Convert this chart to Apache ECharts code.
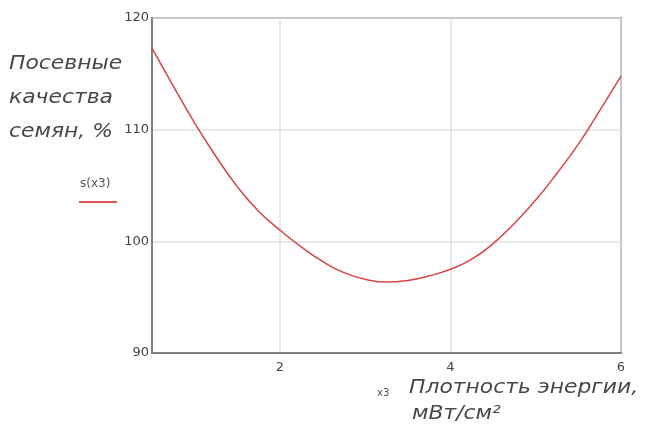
<!DOCTYPE html>
<html>
<head>
<meta charset="utf-8">
<script src="https://cdn.jsdelivr.net/npm/echarts@6/dist/echarts.min.js"></script>
<style>html,body{margin:0;padding:0;background:#fff;}#c{width:653px;height:432px;}</style>
</head>
<body>
<div id="c"></div>
<script>
var xValues = [0.5, 0.75, 1.0, 1.25, 1.5, 1.75, 2.0, 2.25, 2.5, 2.75, 3.0, 3.25, 3.5, 3.75, 4.0, 4.25, 4.5, 4.75, 5.0, 5.25, 5.5, 5.75, 6.0];
var sValues = [117.3, 113.9, 110.6, 107.6, 104.9, 102.7, 101.0, 99.5, 98.2, 97.2, 96.6, 96.35, 96.5, 96.9, 97.5, 98.4, 99.8, 101.6, 103.7, 106.1, 108.7, 111.7, 114.8];
var xTicks = [2, 4, 6];
var yTicks = [90, 100, 110, 120];
var yTitleLines = ['Посевные', 'качества', 'семян, %'];
var xTitleLines = ['Плотность энергии,', 'мВт/см²'];
var legendText = 's(x3)';
var xVarText = 'x3';

var data = xValues.map(function (x, i) { return [x, sValues[i]]; });
var chart = echarts.init(document.getElementById('c'), null, {renderer: 'canvas'});
var italicFont = 'italic 19px "DejaVu Sans", sans-serif';
var graphics = [];
yTitleLines.forEach(function (t, i) {
  graphics.push({type: 'text', x: 9, y: 55 + i * 34, scaleX: 1.15,
    style: {text: t, font: italicFont, fill: '#484848', verticalAlign: 'top', align: 'left'}});
});
xTitleLines.forEach(function (t, i) {
  graphics.push({type: 'text', x: 409 + i * 3, y: 379 + i * 26, scaleX: 1.15,
    style: {text: t, font: italicFont, fill: '#484848', verticalAlign: 'top', align: 'left'}});
});
graphics.push({type: 'text', x: 377, y: 388, style: {text: xVarText, font: '10px "DejaVu Sans", sans-serif', fill: '#555', verticalAlign: 'top'}});
graphics.push({type: 'text', x: 80, y: 178, style: {text: legendText, font: '12px "DejaVu Sans", sans-serif', fill: '#555', verticalAlign: 'top'}});
graphics.push({type: 'line', shape: {x1: 79, y1: 202, x2: 117, y2: 202}, style: {stroke: '#d9534f', lineWidth: 2}});

chart.setOption({
  animation: false,
  grid: {left: 152, top: 18, right: 32, bottom: 79, show: true, borderColor: '#808080', borderWidth: 2, backgroundColor: 'transparent'},
  xAxis: {
    type: 'value', min: 0.5, max: 6,
    axisLine: {show: true, lineStyle: {color: '#808080', width: 2}},
    axisTick: {show: false, customValues: xTicks},
    axisLabel: {customValues: xTicks, color: '#444', fontSize: 13, fontFamily: 'DejaVu Sans', margin: 8},
    splitLine: {show: true, lineStyle: {color: '#e0e0e0', width: 1.5}}
  },
  yAxis: {
    type: 'value', min: 90, max: 120, interval: 10,
    axisLine: {show: true, lineStyle: {color: '#808080', width: 2}},
    axisTick: {show: false},
    axisLabel: {color: '#444', fontSize: 13, fontFamily: 'DejaVu Sans', margin: 3},
    splitLine: {show: true, lineStyle: {color: '#e0e0e0', width: 1.5}}
  },
  series: [{
    type: 'line', data: data, smooth: 0.5, showSymbol: false,
    lineStyle: {color: '#d64545', width: 1.5}
  }],
  graphic: graphics
});
</script>
</body>
</html>
